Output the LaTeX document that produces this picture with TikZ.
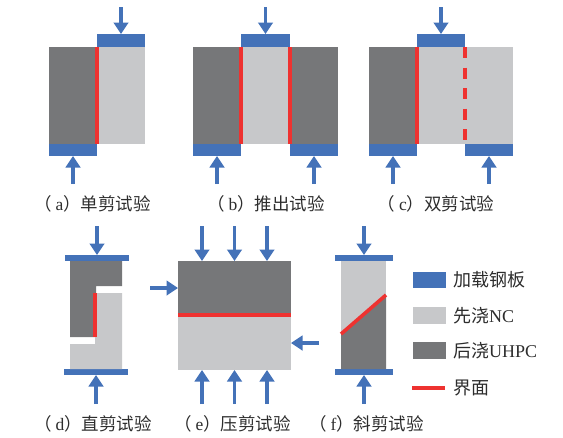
\documentclass[tikz,border=0pt]{standalone}
\usepackage{fontspec}
\setmainfont{Liberation Serif}
\newfontfamily\cjk{Noto Sans CJK SC}
\usetikzlibrary{arrows.meta,positioning,calc}
\definecolor{plateblue}{RGB}{68,114,184}
\definecolor{ncgray}{RGB}{199,200,202}
\definecolor{uhpcgray}{RGB}{118,119,121}
\definecolor{facered}{RGB}{238,50,48}
\definecolor{captext}{RGB}{45,45,45}
\newcommand{\testcap}[2]{（\kern4pt\textrm{#1}）#2}
\tikzset{
	block/.style={
		inner sep=0pt,
		outer sep=0pt
	},
	plate/.style={
		block,
		fill=plateblue
	},
	ncblock/.style={
		block,
		fill=ncgray
	},
	uhpcblock/.style={
		block,
		fill=uhpcgray
	},
	load/.style={
		-{Triangle[length=11.5pt,width=14.5pt]},
		draw=plateblue,
		fill=plateblue,
		line width=3.4pt
	},
	face/.style={
		draw=facered,
		line width=3.6pt
	},
	caption/.style={
		font=\cjk\fontsize{17.5}{20}\selectfont,
		text=captext,
		inner sep=0pt
	},
	legendtext/.style={
		caption,
		font=\cjk\fontsize{18}{20}\selectfont,
		anchor=west
	}
}
\begin{document}
\begin{tikzpicture}[x=1pt,y=-1pt]
	\useasboundingbox (0,0) rectangle (563,437);
	
	% (a)
	\node[uhpcblock,minimum width=48,minimum height=97] (aU) at (73,95.5) {};
	\node[ncblock,minimum width=48,minimum height=97,right=0pt of aU] (aN) {};
	\node[plate,minimum width=48,minimum height=13] (aPt) at (121,40.5) {};
	\node[plate,minimum width=48,minimum height=12] (aPb) at (73,150) {};
	\coordinate (aF1) at (aU.north east);
	\coordinate (aF2) at (aU.south east);
	\draw[face] (aF1) -- (aF2);
	\coordinate (aLt) at (121,7);
	\coordinate (aLb) at (73,184);
	\draw[load] (aLt) -- (aPt);
	\draw[load] (aLb) -- (aPb);
	\node[caption] (aCap) at (92.5,204) {\testcap{a}{单剪试验}};
	
	% (b)
	\node[uhpcblock,minimum width=48,minimum height=97] (bU1) at (217,95.5) {};
	\node[ncblock,minimum width=49,minimum height=97,right=0pt of bU1] (bN) {};
	\node[uhpcblock,minimum width=48,minimum height=97,right=0pt of bN] (bU2) {};
	\node[plate,minimum width=49,minimum height=13] (bPt) at (265.5,40.5) {};
	\node[plate,minimum width=48,minimum height=12] (bPb1) at (217,150) {};
	\node[plate,minimum width=48,minimum height=12] (bPb2) at (314,150) {};
	\draw[face] (bN.north west) -- (bN.south west);
	\draw[face] (bN.north east) -- (bN.south east);
	\coordinate (bLt) at (265.5,7);
	\coordinate (bLb1) at (217,184);
	\coordinate (bLb2) at (314,184);
	\draw[load] (bLt) -- (bPt);
	\draw[load] (bLb1) -- (bPb1);
	\draw[load] (bLb2) -- (bPb2);
	\node[caption] (bCap) at (266,204) {\testcap{b}{推出试验}};
	
	% (c)
	\node[uhpcblock,minimum width=48,minimum height=97] (cU) at (393,95.5) {};
	\node[ncblock,minimum width=96,minimum height=97,right=0pt of cU] (cN) {};
	\node[plate,minimum width=48,minimum height=13] (cPt) at (441,40.5) {};
	\node[plate,minimum width=48,minimum height=12] (cPb1) at (393,150) {};
	\node[plate,minimum width=48,minimum height=12] (cPb2) at (489,150) {};
	\draw[face] (cU.north east) -- (cU.south east);
	\draw[face,dash pattern=on 11pt off 9.5pt] (cPt.south east) -- (cPb2.north west);
	\coordinate (cLt) at (441,7);
	\coordinate (cLb1) at (393,184);
	\coordinate (cLb2) at (489,184);
	\draw[load] (cLt) -- (cPt);
	\draw[load] (cLb1) -- (cPb1);
	\draw[load] (cLb2) -- (cPb2);
	\node[caption] (cCap) at (436,204) {\testcap{c}{双剪试验}};
	
	% (d)
	\node[plate,minimum width=64,minimum height=6] (dPt) at (97,258) {};
	\node[plate,minimum width=64,minimum height=6] (dPb) at (96,372) {};
	\fill[uhpcgray] (70,261) -- (122,261) -- (122,286) -- (96,286) -- (96,337) -- (70,337) -- cycle;
	\fill[ncgray] (95,293) -- (122,293) -- (122,369) -- (70,369) -- (70,344) -- (95,344) -- cycle;
	\coordinate (dF1) at (95,293);
	\coordinate (dF2) at (95,337);
	\draw[face] (dF1) -- (dF2);
	\coordinate (dLt) at (97,226);
	\coordinate (dLb) at (96,404);
	\draw[load] (dLt) -- (dPt);
	\draw[load] (dLb) -- (dPb);
	\node[caption] (dCap) at (93,423.5) {\testcap{d}{直剪试验}};
	
	% (e)
	\node[uhpcblock,minimum width=113,minimum height=54] (eU) at (234.5,288) {};
	\node[ncblock,minimum width=113,minimum height=55,below=0pt of eU] (eN) {};
	\draw[face] (eU.south west) -- (eU.south east);
	\coordinate (eLt1) at (202,226);
	\coordinate (eLt2) at (234.5,226);
	\coordinate (eLt3) at (267,226);
	\coordinate (eLb1) at (202,404);
	\coordinate (eLb2) at (234.5,404);
	\coordinate (eLb3) at (267,404);
	\coordinate (eLl) at (150,288);
	\coordinate (eLr) at (319,343);
	\draw[load] (eLt1) -- (eLt1 |- eU.north);
	\draw[load] (eLt2) -- (eLt2 |- eU.north);
	\draw[load] (eLt3) -- (eLt3 |- eU.north);
	\draw[load] (eLb1) -- (eLb1 |- eN.south);
	\draw[load] (eLb2) -- (eLb2 |- eN.south);
	\draw[load] (eLb3) -- (eLb3 |- eN.south);
	\draw[load] (eLl) -- (eLl -| eU.west);
	\draw[load] (eLr) -- (eLr -| eN.east);
	\node[caption] (eCap) at (232.5,423.5) {\testcap{e}{压剪试验}};
	
	% (f)
	\node[plate,minimum width=58,minimum height=6] (fPt) at (364,258) {};
	\node[plate,minimum width=58,minimum height=6] (fPb) at (364,372) {};
	\fill[ncgray] (341,261) rectangle (386,369);
	\coordinate (fF1) at (341,334);
	\coordinate (fF2) at (386,295);
	\fill[uhpcgray] (fF1) -- (fF2) -- (386,369) -- (341,369) -- cycle;
	\draw[face] (fF1) -- (fF2);
	\coordinate (fLt) at (364,226);
	\coordinate (fLb) at (364,404);
	\draw[load] (fLt) -- (fPt);
	\draw[load] (fLb) -- (fPb);
	\node[caption] (fCap) at (366.5,423.5) {\testcap{f}{斜剪试验}};
	
	% Legend
	\node[plate,minimum width=33,minimum height=16.5] (kPlate) at (429.5,280) {};
	\node[ncblock,minimum width=33,minimum height=16.5] (kNC) at (429.5,315.5) {};
	\node[uhpcblock,minimum width=33,minimum height=16.5] (kUHPC) at (429.5,350.5) {};
	\coordinate (kF1) at (412,388);
	\coordinate (kF2) at (445,388);
	\draw[face] (kF1) -- (kF2);
	\node[legendtext] (kPlateT) at (453,280) {加载钢板};
	\node[legendtext] (kNCT) at (453,315.5) {先浇\textrm{NC}};
	\node[legendtext] (kUHPCT) at (453,350.5) {后浇\textrm{UHPC}};
	\node[legendtext] (kFaceT) at (453,388) {界面};
	
\end{tikzpicture}
\end{document}
